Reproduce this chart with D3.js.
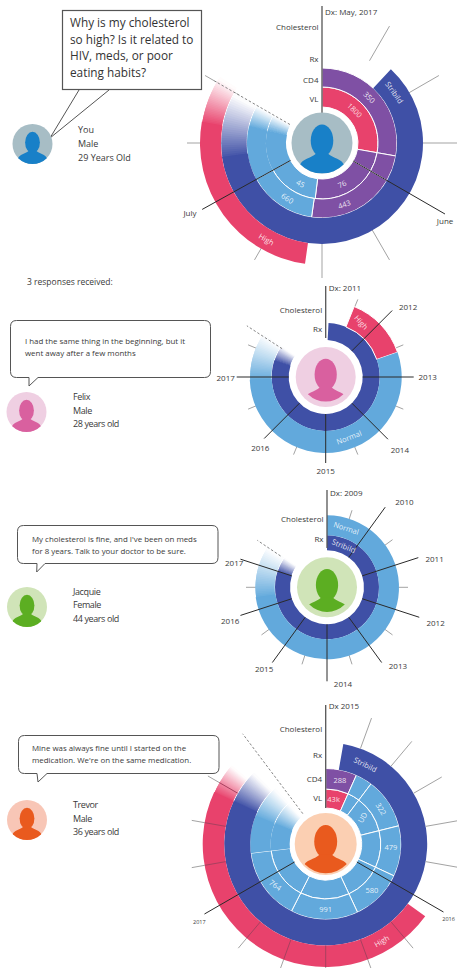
<!DOCTYPE html>
<html><head><meta charset="utf-8">
<script src="https://cdnjs.cloudflare.com/ajax/libs/d3/7.8.5/d3.min.js"></script>
<style>html,body{margin:0;padding:0;background:#fff;overflow:hidden}svg{display:block;font-family:"Open Sans",sans-serif}</style>
</head><body><svg id="c" width="457" height="968"></svg>
<script>
// DATA: segments are [startDeg, endDeg, status, fadeFromDeg?], clockwise from the Dx axis
const youVL   = [[0,100,'high'],[100,120,'mid'],[120,187,'mid'],[187,241,'ok'],[241,300,'ok',283]];
const youCD4  = [[0,100,'mid'],[100,120,'mid'],[120,188,'mid'],[188,241,'ok'],[241,300,'ok',283]];
const youRx   = [[43,300,'med',262]];
const youChol = [[188,303,'high',280]];
const youLabels = [['VL',45,'1800'],['CD4',46,'350'],['Rx',55,'Stribild'],['VL',154,'76'],['CD4',160,'443'],['VL',208,'45'],['CD4',212,'660'],['Chol',210,'High']];
const youTicks = [30,60,90,150,180,210,270,300];
const youDates = [['June',120,142],['July',241,137]];

const felixRx   = [[3,305,'med',288]];
const felixChol = [[22,71,'high'],[71,305,'ok',268]];
const felixLabels = [['Chol',33,'High',48],['Chol',159,'Normal']];
const felixTicks = [22.5,67.5,112.5,157.5,202.5,247.5,292.5];
const felixDates = [['2012',45,94],['2013',90,88],['2014',135,88],['2015',180,86],['2016',225,87],['2017',270,89]];

const jacquieRx   = [[0,305,'med',288]];
const jacquieChol = [[0,305,'ok',262]];
const jacquieLabels = [['Chol',18,'Normal'],['Rx',22,'Stribild']];
const jacquieTicks = [18,54,90,126,162,198,234,270];
const jacquieDates = [['2010',36,99],['2011',72,96],['2012',108,97],['2013',144,93],['2014',180,94],['2015',216,93],['2016',252,91],['2017',288,91]];

const trevorVL   = [[0,24,'high'],[24,37,'ok'],[37,76,'ok'],[76,115,'ok'],[115,155,'ok'],[155,207,'ok'],[207,263,'ok'],[263,318,'ok',292]];
const trevorCD4  = [[0,24,'mid'],[24,37,'ok'],[37,76,'ok'],[76,115,'ok'],[115,155,'ok'],[155,207,'ok'],[207,263,'ok'],[263,318,'ok',292]];
const trevorRx   = [[10,315,'med',295]];
const trevorChol = [[126,310,'high',295]];
const trevorLabels = [['CD4',12.5,'288',0],['VL',10,'43k',0],['Rx',26.5,'Stribild'],['CD4',57.6,'322'],['VL',54.5,'UD',-60],['CD4',93,'479',0],['CD4',135,'580',0],['CD4',180,'991'],['CD4',230.6,'764',35],['Chol',150,'High']];
const trevorTicks = [20,40,60,80,100,140,160,180,200,220,260,280,300];
const trevorDates = [['2016',120,136],['2017',240,140]];

// STYLE + LAYOUT
const colors = {high:'#e8426c',mid:'#7f50a4',med:'#3f50a6',ok:'#62a9dc'};
const people = {
  you:{bg:'#a7bdc5',fg:'#1880c8'},felix:{bg:'#efcfe2',fg:'#d9609f'},
  jacquie:{bg:'#d0e4b8',fg:'#5cae22'},trevor:{bg:'#fbcfb2',fg:'#e95a1e'}
};
const angle = d3.scaleLinear().domain([0,360]).range([0,2*Math.PI]);
const svg = d3.select('#c');
const arc = d3.arc();
const ink = '#3a3a3a';
let uid = 0;

function avatar(g,cx,cy,r,who,bg,clipK){
  const id='clip'+(uid++), p=people[who];
  g.append('clipPath').attr('id',id).append('circle').attr('cx',cx).attr('cy',cy).attr('r',r*(clipK||1));
  g.append('circle').attr('cx',cx).attr('cy',cy).attr('r',r).attr('fill',bg||p.bg);
  const h=g.append('g').attr('clip-path',`url(#${id})`).attr('fill',p.fg);
  h.append('ellipse').attr('cx',cx).attr('cy',cy-.08*r).attr('rx',.37*r).attr('ry',.53*r);
  const path=d3.path();
  path.moveTo(cx-.72*r,cy+r);
  path.lineTo(cx-.72*r,cy+.72*r);
  path.bezierCurveTo(cx-.66*r,cy+.52*r,cx-.36*r,cy+.5*r,cx-.2*r,cy+.35*r);
  path.lineTo(cx+.2*r,cy+.35*r);
  path.bezierCurveTo(cx+.36*r,cy+.5*r,cx+.66*r,cy+.52*r,cx+.72*r,cy+.72*r);
  path.lineTo(cx+.72*r,cy+r);
  path.closePath();
  h.append('path').attr('d',path.toString());
}

function drawRing(g,segs,band){
  segs.forEach(s=>{
    const [a0,a1,st,fade]=s, solidEnd=fade===undefined?a1:fade;
    if(fade!==undefined){
      // fade to white: overlapping steps, lightest on top, so no seams show
      const col=d3.interpolateRgb(colors[st],'#ffffff'),n=28,step=(a1-solidEnd)/n;
      d3.range(n).forEach(i=>{
        g.append('path').attr('d',arc({innerRadius:band[0]+.5,outerRadius:band[1]-.5,startAngle:angle(solidEnd+(i-1)*step),endAngle:angle(solidEnd+(i+1)*step)}))
          .attr('fill',col((i+.5)/n));
      });
    }
    g.append('path').attr('d',arc({innerRadius:band[0],outerRadius:band[1],startAngle:angle(a0),endAngle:angle(solidEnd)}))
      .attr('fill',colors[st]).attr('stroke',fade===undefined?'#fff':'none').attr('stroke-width',1);
  });
}

function polar(cx,cy,a,r){const t=angle(a);return [cx+Math.sin(t)*r,cy-Math.cos(t)*r];}
function seg(g,cx,cy,a,r0,r1,color,w,dash){
  const [x0,y0]=polar(cx,cy,a,r0),[x1,y1]=polar(cx,cy,a,r1);
  const l=g.append('line').attr('x1',x0).attr('y1',y0).attr('x2',x1).attr('y2',y1).attr('stroke',color).attr('stroke-width',w);
  if(dash)l.attr('stroke-dasharray',dash);
}

function sunburst(o){
  const g=svg.append('g'),{cx,cy}=o;
  if(!o.ticksOnTop) o.ticks.forEach(a=>seg(g,cx,cy,a,o.tickR[0],o.tickR[1],'#a3a3a3',1));
  const rg=g.append('g').attr('transform',`translate(${cx},${cy})`);
  o.rings.forEach(r=>drawRing(rg,r.segs,o.bands[r.key]));
  if(o.ticksOnTop) o.ticks.forEach(a=>{
    const onHigh=o.rings.some(r=>r.key==='Chol'&&r.segs.some(s=>a>=s[0]&&a<=s[1]));
    seg(g,cx,cy,a,o.tickR[0],onHigh?o.bands.Chol[1]:o.tickR[1],onHigh?'#a8405f':'#a3a3a3',1);
    if(onHigh) seg(g,cx,cy,a,o.bands.Chol[1],o.tickR[1]+2,'#a3a3a3',1);
  });
  seg(g,cx,cy,o.cut[0],o.cut[1],o.cut[2],'#777',.9,'2.5,2');
  o.dates.forEach(d=>{
    seg(g,cx,cy,d[1],o.spoke,d[2],'#2a2a2a',1);
    const [x,y]=polar(cx,cy,d[1],d[2]);
    const t=angle(d[1]),n=(o.nudge&&o.nudge[d[0]])||[0,0];
    g.append('text').attr('x',x+Math.sin(t)*14+n[0]).attr('y',y-Math.cos(t)*8+3+n[1]).attr('text-anchor','middle')
      .attr('font-size',o.dateSize||8).attr('fill',ink).text(d[0]);
  });
  g.append('line').attr('x1',cx).attr('x2',cx).attr('y1',o.axis[0]).attr('y2',o.axis[1]).attr('stroke','#555').attr('stroke-width',1.3);
  g.append('text').attr('x',cx+3).attr('y',o.dxY).attr('font-size',8).attr('fill',ink).text(o.dx);
  o.axisLabels.forEach(l=>g.append('text').attr('x',cx-3.5).attr('y',l[1]).attr('text-anchor','end').attr('font-size',8).attr('fill',ink).text(l[0]));
  avatar(g,cx,cy,o.avatarR,o.who,null,o.clipK);
  o.labels.forEach(l=>{
    const b=o.bands[l[0]],r=(b[0]+b[1])/2,[x,y]=polar(cx,cy,l[1],r);
    const rot=l[3]!==undefined?l[3]:((l[1]>90&&l[1]<270)?l[1]-180:l[1]);
    g.append('text').attr('transform',`translate(${x},${y}) rotate(${rot})`).attr('dy','.35em').attr('text-anchor','middle')
      .attr('font-size',7.5).attr('fill','#fff').attr('fill-opacity',.85).text(l[2]);
  });
}

function bubble(x,y,w,h,tail,lines,tx,ys,size){
  const g=svg.append('g');
  const r=6,p=d3.path();
  p.moveTo(x+r,y);p.lineTo(x+w-r,y);p.quadraticCurveTo(x+w,y,x+w,y+r);p.lineTo(x+w,y+h-r);p.quadraticCurveTo(x+w,y+h,x+w-r,y+h);
  p.lineTo(tail[3],y+h);p.lineTo(tail[0],tail[1]);p.lineTo(tail[2],y+h);
  p.lineTo(x+r,y+h);p.quadraticCurveTo(x,y+h,x,y+h-r);p.lineTo(x,y+r);p.quadraticCurveTo(x,y,x+r,y);p.closePath();
  g.append('path').attr('d',p.toString()).attr('fill','#fff').attr('stroke','#555').attr('stroke-width',1);
  lines.forEach((t,i)=>g.append('text').attr('x',tx).attr('y',ys[i]).attr('font-size',size).attr('fill',ink).text(t));
}
function bio(x,ys,lines,size,track){lines.forEach((t,i)=>svg.append('text').attr('x',x).attr('y',ys[i]).attr('font-size',size).attr('letter-spacing',track||0).attr('fill',ink).text(t));}

// ---------- You ----------
sunburst({cx:322,cy:143,who:'you',avatarR:30.5,bands:{VL:[36,56],CD4:[56,75],Rx:[75,101],Chol:[101,122]},
  rings:[{key:'VL',segs:youVL},{key:'CD4',segs:youCD4},{key:'Rx',segs:youRx},{key:'Chol',segs:youChol}],
  ticks:youTicks,tickR:[95,135],dates:youDates,labels:youLabels,spoke:36,nudge:{June:[-12,3]},
  cut:[300,37,124],axis:[6,113],dx:'Dx: May, 2017',dxY:15,axisLabels:[['Cholesterol',30],['Rx',62],['CD4',83],['VL',102]]});
const qb=svg.append('g');
qb.append('polyline').attr('points','79,90 50,138 109,90').attr('fill','#fff').attr('stroke','#555').attr('stroke-width',1);
qb.append('rect').attr('x',62.5).attr('y',10.5).attr('width',139).attr('height',79).attr('fill','#fff').attr('stroke','#555').attr('stroke-width',1.2);
["Why is my cholesterol","so high? Is it related to","HIV, meds, or poor","eating habits?"].forEach((t,i)=>
  qb.append('text').attr('x',70).attr('y',27+i*16.6).attr('font-size',11.8).attr('fill','#333').text(t));
avatar(svg.append('g'),32.5,144,20,'you');
bio(78,[133,147,161],['You','Male','29 Years Old'],9);
svg.append('text').attr('x',27).attr('y',285).attr('font-size',8.5).attr('fill',ink).text('3 responses received:');

// ---------- Felix ----------
sunburst({cx:325.7,cy:377,who:'felix',avatarR:30,clipK:.82,bands:{Rx:[37,54],Chol:[54,76]},
  rings:[{key:'Rx',segs:felixRx},{key:'Chol',segs:felixChol}],
  ticks:felixTicks,tickR:[74,84],dates:felixDates,labels:felixLabels,spoke:37,
  nudge:{'2012':[6,2],'2014':[2,5],'2016':[6,4],'2017':[3,1]},
  cut:[303,52,94],axis:[286,338],dx:'Dx: 2011',dxY:291,axisLabels:[['Cholesterol',313],['Rx',332]]});
bubble(10.5,320.5,200,57,[29,386,29,38],['I had the same thing in the beginning, but it','went away after a few months'],25,[344,356],7.9);
avatar(svg.append('g'),26.5,412,20,'felix');
bio(73,[400,414,427],['Felix','Male','28 years old'],9,-.4);

// ---------- Jacquie ----------
sunburst({cx:327,cy:587.3,who:'jacquie',avatarR:30,clipK:.82,bands:{Rx:[37,52],Chol:[52,72]},
  rings:[{key:'Rx',segs:jacquieRx},{key:'Chol',segs:jacquieChol}],
  ticks:jacquieTicks,tickR:[70,81],dates:jacquieDates,labels:jacquieLabels,spoke:37,
  nudge:{'2010':[11,1],'2011':[3,4],'2012':[3,3],'2013':[8,-3],'2014':[16,-5],'2015':[0,0],'2016':[3,3],'2017':[7,6]},
  cut:[304,56,84],axis:[490,548],dx:'Dx: 2009',dxY:496,axisLabels:[['Cholesterol',522],['Rx',542]]});
bubble(17.5,525.5,200.5,38,[36.7,572,37,45],["My cholesterol is fine, and I've been on meds","for 8 years. Talk to your doctor to be sure."],32,[542,554],7.9);
avatar(svg.append('g'),27,607,20,'jacquie');
bio(73,[595,608,622],['Jacquie','Female','44 years old'],9,-.4);

// ---------- Trevor ----------
sunburst({cx:325.7,cy:844,who:'trevor',avatarR:31,clipK:.94,bands:{VL:[36,55],CD4:[55,75.5],Rx:[75.5,101.5],Chol:[101.5,123]},
  rings:[{key:'VL',segs:trevorVL},{key:'CD4',segs:trevorCD4},{key:'Rx',segs:trevorRx},{key:'Chol',segs:trevorChol}],
  ticks:trevorTicks,tickR:[101.5,134],ticksOnTop:true,dates:trevorDates,labels:trevorLabels,spoke:36,dateSize:5.5,
  nudge:{'2016':[-7,2],'2017':[7,3]},
  cut:[323,38,138],axis:[705,808],dx:'Dx 2015',dxY:709,axisLabels:[['Cholesterol',732],['Rx',758],['CD4',782],['VL',801]]});
bubble(18.5,735.5,200.5,38,[38,782,37,47],["Mine was always fine until I started on the","medication. We're on the same medication."],32,[751,763],7.9);
avatar(svg.append('g'),27,820,20,'trevor','#f8c6b6');
bio(73,[808,822,835],['Trevor','Male','36 years old'],9,-.4);
</script></body></html>
